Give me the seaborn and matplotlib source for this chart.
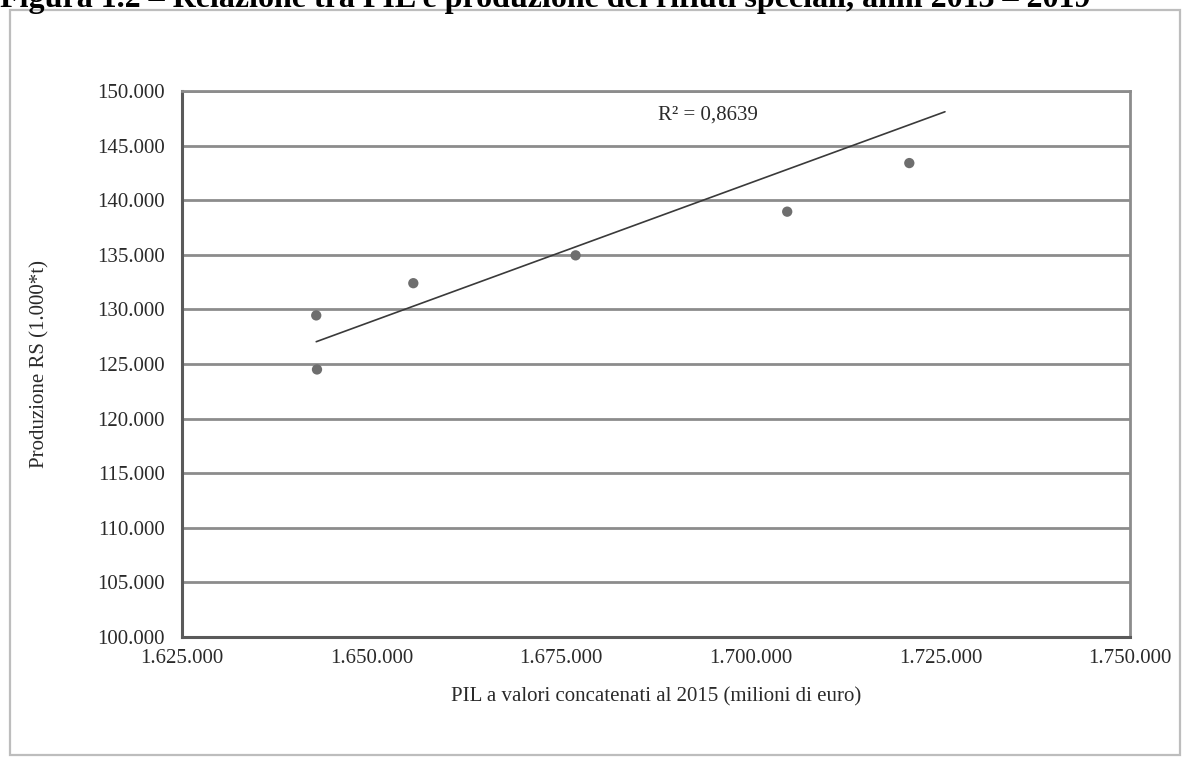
import numpy as np
import pandas as pd
import matplotlib
matplotlib.use("Agg")
import matplotlib.pyplot as plt
from matplotlib.ticker import FuncFormatter, MultipleLocator
from matplotlib.patches import Rectangle
import seaborn as sns

# PIL a valori concatenati (milioni di euro) e produzione di rifiuti speciali (1.000 t)
pil = [1642700, 1642800, 1655500, 1676900, 1704800, 1720900, 1725600]
produzione_rs = [129450, 124500, 132400, 134950, 138950, 143400, 154300]
r2_label = "R² = 0,8639"

titolo = "Figura 1.2 – Relazione tra PIL e produzione dei rifiuti speciali, anni 2013 – 2019"
x_label = "PIL a valori concatenati al 2015 (milioni di euro)"
y_label = "Produzione RS (1.000*t)"

df = pd.DataFrame({"pil": pil, "rs": produzione_rs})

sns.set_theme(style="white")
plt.rcParams["font.family"] = ["Liberation Serif", "DejaVu Serif"]

fig = plt.figure(figsize=(11.84, 7.58), dpi=100)
ax = fig.add_axes([182 / 1184, 1 - 637 / 758, (1130 - 182) / 1184, (637 - 91) / 758])

grid_col = "#8c8c8c"
axis_col = "#5a5a5a"
text_col = "#2a2a2a"

sns.scatterplot(data=df, x="pil", y="rs", ax=ax, s=55, color="#6e6e6e",
                edgecolor="none", zorder=4)
sns.regplot(data=df, x="pil", y="rs", ax=ax, scatter=False, ci=None, truncate=True,
            line_kws={"color": "#3a3a3a", "linewidth": 1.2, "zorder": 5})

ax.set_xlim(1625000, 1750000)
ax.set_ylim(100000, 150000)
ax.xaxis.set_major_locator(MultipleLocator(25000))
ax.yaxis.set_major_locator(MultipleLocator(5000))
fmt = FuncFormatter(lambda v, _: f"{int(round(v)):,}".replace(",", "."))
ax.xaxis.set_major_formatter(fmt)
ax.yaxis.set_major_formatter(fmt)

ax.grid(axis="y", color=grid_col, linewidth=2.0)
ax.grid(axis="x", visible=False)
ax.set_axisbelow(True)

for side in ("left", "bottom"):
    ax.spines[side].set_color(axis_col)
    ax.spines[side].set_linewidth(2.2)
for side in ("right", "top"):
    ax.spines[side].set_color(grid_col)
    ax.spines[side].set_linewidth(2.0)

ax.tick_params(axis="both", direction="inout", length=9, width=1.2, color=axis_col,
               labelsize=15, labelcolor=text_col)
ax.tick_params(axis="y", pad=8)
ax.tick_params(axis="x", pad=4)

ax.set_xlabel(x_label, fontsize=15, color=text_col, labelpad=14)
ax.set_ylabel(y_label, fontsize=15, color=text_col, labelpad=34)

ax.text(0.502, 0.956, r2_label, transform=ax.transAxes, fontsize=15,
        color=text_col, ha="left", va="center")

# cornice del grafico
fig.patches.append(Rectangle((10 / 1184, 1 - 755 / 758), 1170 / 1184, 745 / 758,
                             transform=fig.transFigure, fill=False,
                             edgecolor="#bdbdbd", linewidth=1.6))

fig.text(0.0, 1 - 7 / 758, titolo, fontsize=23, fontweight="bold",
         ha="left", va="baseline", color="black")

fig.savefig("out.png", dpi=100, facecolor="white")
